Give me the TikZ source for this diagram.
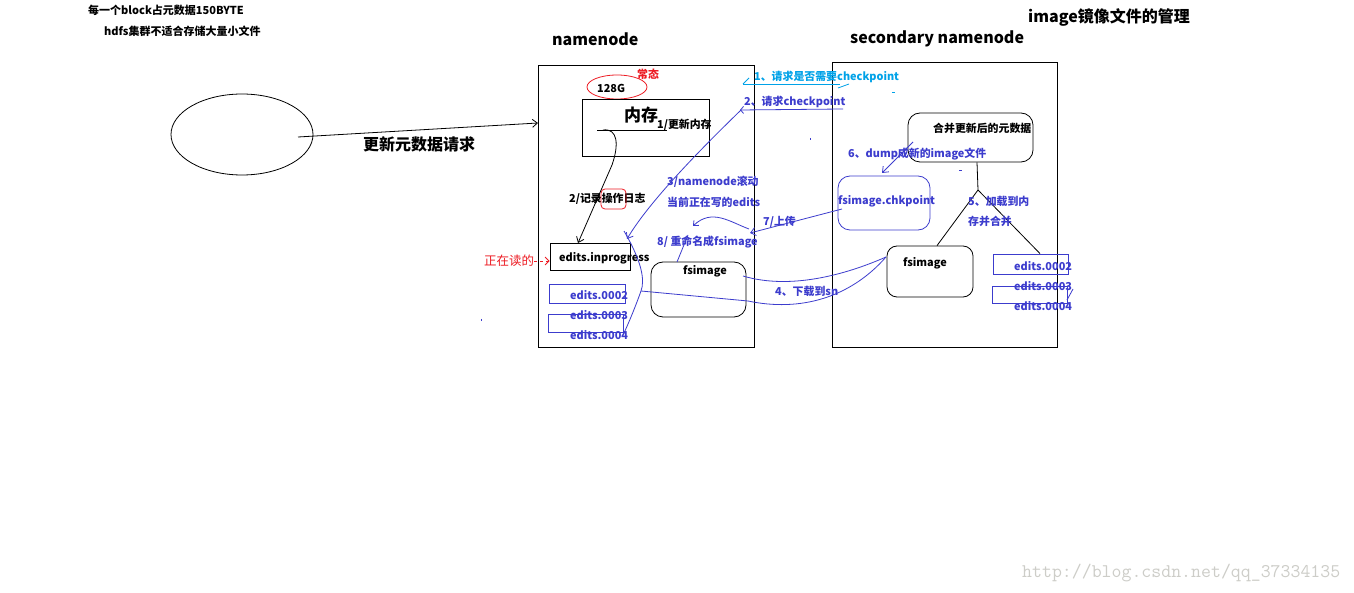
\documentclass[tikz,border=0pt]{standalone}
\usepackage{fontspec}
\setmainfont{Noto Sans CJK SC}
\usetikzlibrary{shapes.geometric,arrows.meta}
\definecolor{pblue}{RGB}{60,60,205}
\definecolor{pcyan}{RGB}{0,162,232}
\definecolor{pred}{RGB}{237,28,36}
\definecolor{wmark}{RGB}{205,205,200}
\tikzset{
  lw/.style={line width=0.8pt},
  box/.style={draw,lw,inner sep=0,minimum width=#1},
  tx/.style={inner sep=0,anchor=west,font=\bfseries\fontsize{10.9}{12}\selectfont},
  txb/.style={tx,text=pblue},
  big/.style={inner sep=0,anchor=west,font=\bfseries\fontsize{16}{18}\selectfont},
  barb/.style={-{Straight Barb[length=5pt,width=8pt]}},
}
\begin{document}
\begin{tikzpicture}[x=1pt,y=-1pt]
\useasboundingbox[fill=white] (0,0) rectangle (1354,593);

% top texts
\node[tx,font=\bfseries\fontsize{11}{12}\selectfont] (t1) at (88,10) {每一个block占元数据150BYTE};
\node[tx,font=\bfseries\fontsize{11}{12}\selectfont] (t2) at (104,31) {hdfs集群不适合存储大量小文件};
\node[big] (title) at (1028,17) {image镜像文件的管理};
\node[big] (nnl) at (552,39) {namenode};
\node[big] (snl) at (850,39) {secondary namenode};

% client ellipse and request
\node[draw,lw,ellipse,minimum width=142pt,minimum height=81pt,inner sep=0] (cl) at (242,134.5) {};
\node[box=216pt,minimum height=282pt] (nn) at (646,206) {};
\node[box=225pt,minimum height=285pt] (sn) at (944.5,204.5) {};
\coordinate (ea) at (298,137);
\coordinate (nnin) at (538,123);
\draw[lw,barb] (ea) -- (nnin);
\node[big] (req) at (363,144) {更新元数据请求};

% namenode inside
\node[draw=pred,lw,ellipse,minimum width=60pt,minimum height=24pt,inner sep=0] (g128) at (617,87) {};
\node[tx] (g128t) at (597,88) {128G};
\node[tx,text=pred] (cst) at (637,74) {常态};
\node[box=127pt,minimum height=57pt] (mem) at (645.5,127.5) {};
\node[inner sep=0,anchor=west,font=\bfseries\fontsize{17}{19}\selectfont] (memt) at (624,115) {内存};
\coordinate (m1) at (597,130);
\coordinate (m2) at (667,130);
\draw[lw] (m1) -- (m2);
\node[tx] (u1) at (657,125) {1/更新内存};
\node[tx] (u2) at (569,199) {2/记录操作日志};
\node[draw=pred,lw,rounded corners=4pt,minimum width=25pt,minimum height=20pt,inner sep=0] (cz) at (613.5,199) {};

\node[box=80pt,minimum height=27pt] (ip) at (590,256.5) {};
\node[tx] (ipt) at (559,258) {edits.inprogress};
\coordinate (ipn) at (578,243);
\coordinate (c0) at (603,130);
\draw[lw,barb] (c0) .. controls (618,128) and (619,145) .. (612,165) -- (ipn);

\node[inner sep=0,anchor=west,text=pred,font=\fontsize{12.5}{14}\selectfont] (rd) at (484,261) {正在读的};
\draw[pred,lw,dashed,-{Straight Barb[length=4pt,width=8pt]}] (rd.east) -- (ip.west |- rd.east);

\node[box=76pt,minimum height=19pt,draw=pblue] (ne1) at (587,293.5) {};
\node[box=75pt,minimum height=18pt,draw=pblue] (ne2) at (585.5,323) {};
\node[txb] (ne1t) at (570,295) {edits.0002};
\node[txb] (ne2t) at (570,315) {edits.0003};
\node[txb] (ne3t) at (570,335) {edits.0004};

\node[box=95pt,minimum height=55pt,rounded corners=12pt] (nf) at (698.5,289.5) {};
\node[tx] (nft) at (683,271) {fsimage};

% step 3
\node[txb] (s3a) at (667,182) {3/namenode滚动};
\node[txb] (s3b) at (667,202) {当前正在写的edits};
\coordinate (p3s) at (741,110);
\coordinate (p3e) at (627,239);
\draw[pblue,lw,barb] (p3s) .. controls (705,145) and (650,200) .. (p3e);

% bracket curve and download curves
\coordinate (b0) at (624,231);
\coordinate (bm) at (641,291);
\coordinate (b1) at (624,333);
\draw[pblue,lw] (b0) .. controls (642,262) and (645,280) .. (bm) .. controls (636,305) and (630,320) .. (b1);
\node[box=86pt,minimum height=51pt,rounded corners=10pt] (sf) at (930,271.5) {};
\node[tx] (sft) at (903,263) {fsimage};
\coordinate (sfw) at (886,257);
\coordinate (nfe) at (743,276);
\draw[pblue,lw] (bm) -- (748,301) .. controls (800,312) and (850,298) .. (sfw);
\draw[pblue,lw] (nfe) .. controls (790,290) and (845,275) .. (sfw);
\node[txb] (s4) at (775,291) {4、下载到sn};

% step 7 and 8
\node[box=92pt,minimum height=54pt,rounded corners=12pt,draw=pblue] (ck) at (884,203) {};
\node[txb] (ckt) at (838,201) {fsimage.chkpoint};
\coordinate (p7s) at (842,209);
\coordinate (p7e) at (750,233);
\draw[pblue,lw,barb] (p7s) -- (p7e);
\node[txb] (s7) at (763,222) {7/上传};
\coordinate (p8s) at (749,229);
\coordinate (p8e) at (693,226);
\draw[pblue,lw,-{Straight Barb[length=4pt,width=7pt]}] (p8s) .. controls (730,222) and (712,208) .. (p8e);
\node[txb] (s8) at (657,242) {8/ 重命名成fsimage};
\coordinate (p8a) at (688,235);
\coordinate (p8b) at (677,262);
\draw[pblue,lw] (p8a) -- (p8b);

% steps 1 and 2
\node[tx,text=pcyan] (s1) at (754,77) {1、请求是否需要checkpoint};
\coordinate (l1a) at (743,84);
\coordinate (l1b) at (840,84);
\draw[pcyan,lw] (l1a) -- (l1b);
\draw[pcyan,lw] (l1a) -- (749,78);
\draw[pcyan,lw] (838,88) -- (849,84);
\node[txb] (s2) at (744,102) {2、请求checkpoint};
\coordinate (l2a) at (843,109);
\coordinate (l2b) at (740,110);
\draw[pblue,lw,-{Straight Barb[length=3pt,width=7pt]}] (l2a) -- (l2b);

% secondary merge
\node[box=125pt,minimum height=49pt,rounded corners=12pt] (mg) at (970.5,137.5) {};
\node[tx] (mgt) at (933,128) {合并更新后的元数据};
\node[txb] (s6) at (848,154) {6、dump成新的image文件};
\coordinate (p6s) at (913,142);
\coordinate (p6e) at (882,173);
\draw[pblue,lw,barb] (p6s) -- (p6e);
\coordinate (sp) at (978,190);
\draw[lw] (mg.south -| 977,0) -- (sp);
\draw[lw] (sp) -- (sf.north -| 937,0);
\node[box=75pt,minimum height=20pt,draw=pblue] (se1) at (1030.5,264) {};
\node[box=75pt,minimum height=17pt,draw=pblue] (se2) at (1029.5,294.5) {};
\draw[lw] (sp) -- (se1.north -| 1040,0);
\node[txb] (s5a) at (968,201) {5、加载到内};
\node[txb] (s5b) at (968,221) {存并合并};
\node[txb] (se1t) at (1014,266) {edits.0002};
\node[txb] (se2t) at (1014,286) {edits.0003};
\node[txb] (se3t) at (1014,306) {edits.0004};
\draw[pblue,lw] (1067,300) -- (1073,289);

% specks
\draw[pcyan,lw] (892,92) -- (895,92);
\draw[pblue,lw] (810,138) -- (810,140);
\draw[pblue,lw] (959,170) -- (962,170);
\draw[pblue,lw] (481,319) -- (481,321);

% watermark
\node[inner sep=0,anchor=west,text=wmark,font=\ttfamily\fontsize{19.3}{21}\selectfont] (wm) at (1022,573) {http://blog.csdn.net/qq\_37334135};
\end{tikzpicture}
\end{document}
